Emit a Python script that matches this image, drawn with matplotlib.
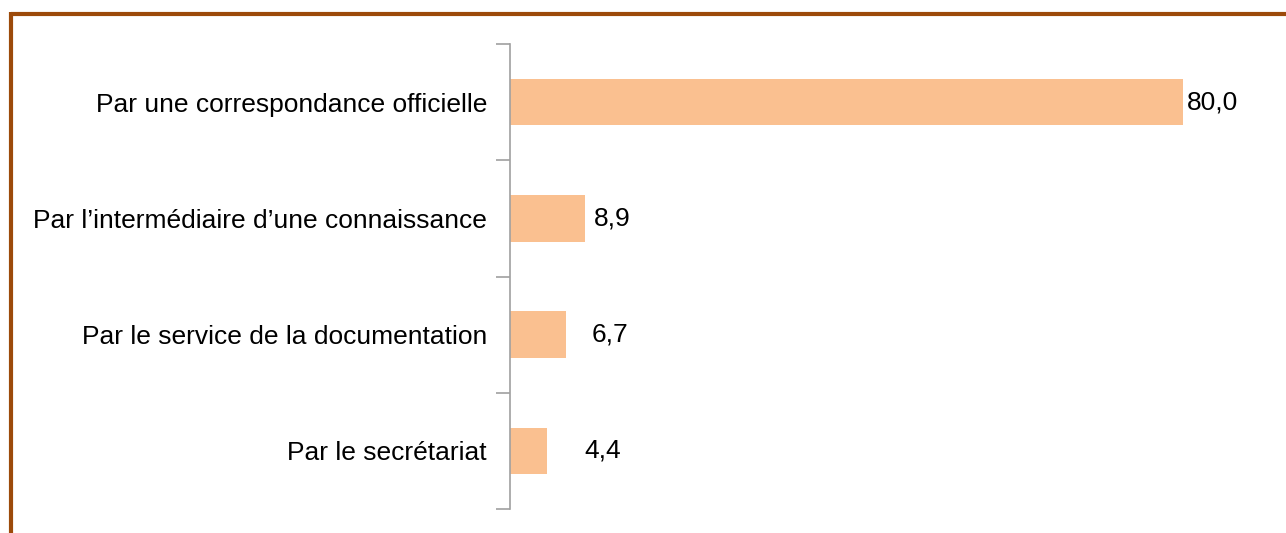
import matplotlib.pyplot as plt
from matplotlib.lines import Line2D

plt.rcParams['font.family'] = ['Liberation Sans', 'DejaVu Sans']

categories = ["Par une correspondance officielle",
              "Par l\u2019interm\u00e9diaire d\u2019une connaissance",
              "Par le service de la documentation",
              "Par le secr\u00e9tariat"]
values = [80.0, 8.9, 6.7, 4.4]
labels = ["80,0", "8,9", "6,7", "4,4"]
label_offsets = [3, 6.5, 18, 27]   # points, as placed in the original

W, H = 1286, 533
fig = plt.figure(figsize=(W / 100, H / 100), dpi=100)
fig.patch.set_facecolor('white')

# frame of the original (brown top and left edges)
bc = '#9C4A0A'
fig.add_artist(Line2D([11 / W, 1], [1 - 14 / H, 1 - 14 / H], color=bc, lw=3, solid_capstyle='butt'))
fig.add_artist(Line2D([11 / W, 11 / W], [0, 1 - 12 / H], color=bc, lw=3, solid_capstyle='butt'))

ax = fig.add_axes([510 / W, 24 / H, 757 / W, 465 / H])
y = list(range(len(categories)))
ax.barh(y, values, height=0.4, color='#FAC090', zorder=2)
ax.set_ylim(len(categories) - 0.5, -0.5)
ax.set_xlim(0, 90)

ax.set_yticks([i - 0.5 for i in range(len(categories) + 1)])
ax.set_yticklabels([])
ax.set_yticks(y, minor=True)
ax.set_yticklabels(categories, minor=True, fontsize=19)
ax.tick_params(axis='y', which='major', length=10, width=1.2, color='#A0A0A0', direction='out')
ax.tick_params(axis='y', which='minor', length=0, pad=16.5)
ax.set_xticks([])

for s in ['top', 'right', 'bottom']:
    ax.spines[s].set_visible(False)
ax.spines['left'].set_color('#A0A0A0')
ax.spines['left'].set_linewidth(1.2)

for i, (v, lab) in enumerate(zip(values, labels)):
    ax.annotate(lab, (v, i), xytext=(label_offsets[i], 0), textcoords='offset points',
                ha='left', va='center', fontsize=19)

fig.savefig('out.png', dpi=100)
